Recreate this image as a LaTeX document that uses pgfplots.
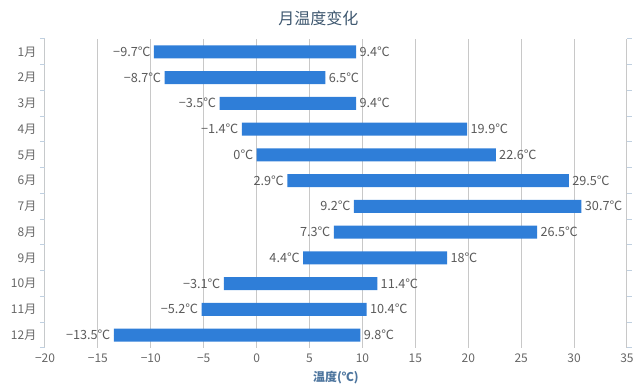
\documentclass[border=0pt]{standalone}
\usepackage{fontspec}
\setmainfont{Noto Sans CJK SC}
\usepackage{pgfplots}
\usepackage{pgfplotstable}
\pgfplotsset{compat=1.18}
\definecolor{barblue}{HTML}{2F7ED8}
\definecolor{gridgray}{HTML}{C8C8C8}
\definecolor{axisline}{HTML}{C0D0E0}
\definecolor{ticklab}{HTML}{666666}
\definecolor{datalab}{HTML}{5A5A5A}
\definecolor{titlecol}{HTML}{3E576F}
\definecolor{axtitle}{HTML}{4D759E}

\pgfplotstableread{
m low high lowl highl
1 -9.7 9.4 −9.7℃ 9.4℃
2 -8.7 6.5 −8.7℃ 6.5℃
3 -3.5 9.4 −3.5℃ 9.4℃
4 -1.4 19.9 −1.4℃ 19.9℃
5 0 22.6 0℃ 22.6℃
6 2.9 29.5 2.9℃ 29.5℃
7 9.2 30.7 9.2℃ 30.7℃
8 7.3 26.5 7.3℃ 26.5℃
9 4.4 18 4.4℃ 18℃
10 -3.1 11.4 −3.1℃ 11.4℃
11 -5.2 10.4 −5.2℃ 10.4℃
12 -13.5 9.8 −13.5℃ 9.8℃
}\temps

\pgfplotsset{
  common/.style={at={(0,0)}, anchor=south west,
    scale only axis, width=436.5pt, height=231.75pt,
    xmin=-20, xmax=35, ymin=0.5, ymax=12.5},
}

\begin{document}
\begin{tikzpicture}
\useasboundingbox (-33.75pt,-30.75pt) rectangle (444pt,261pt);
\begin{axis}[
  common,
  xbar stacked, stack negative=on previous, bar width=9.75pt,
  axis line style={draw=none},
  xtick={-20,-15,...,35},
  xticklabels={−20,−15,−10,−5,0,5,10,15,20,25,30,35},
  ytick={1,...,12},
  yticklabels={12月,11月,10月,9月,8月,7月,6月,5月,4月,3月,2月,1月},
  xtick style={draw=none}, ytick style={draw=none},
  extra y ticks={0.5,1.5,...,12.5},
  extra y tick labels={},
  extra y tick style={major tick length=3.75pt, tick align=outside,
     ytick style={draw=axisline, line width=0.75pt}},
  xmajorgrids, grid style={gridgray, line width=0.75pt},
  ticklabel style={font=\fontsize{9}{9}\selectfont, color=ticklab},
  yticklabel style={xshift=-3pt},
  xticklabel style={yshift=-1pt},
  xlabel={\bfseries 温度(℃)},
  xlabel style={at={(rel axis cs:0.5,0)}, anchor=center, yshift=-22.5pt,
     font=\fontsize{9}{9}\selectfont, color=axtitle},
]
\addplot[draw=none, fill=none]
  table[y expr=13-\thisrow{m}, x=low] {\temps};
\addplot[draw=none, fill=barblue]
  table[y expr=13-\thisrow{m}, x expr=\thisrow{high}-\thisrow{low}] {\temps};
\draw[axisline, line width=0.75pt] (rel axis cs:0,0) -- (rel axis cs:0,1);
\end{axis}
\begin{axis}[
  common, hide axis,
  point meta=explicit symbolic,
  every node near coord/.append style={font=\fontsize{9.5}{9.5}\selectfont, color=datalab, inner sep=0pt},
]
\addplot[only marks, mark=*, mark size=0pt, draw=none, fill=none,
  nodes near coords={\smash{\makebox[0pt][r]{\raisebox{-0.42em}{\pgfplotspointmeta}\hspace{2.6pt}}}}]
  table[y expr=13-\thisrow{m}, x=low, meta=lowl] {\temps};
\addplot[only marks, mark=*, mark size=0pt, draw=none, fill=none,
  nodes near coords={\smash{\makebox[0pt][l]{\hspace{2.6pt}\raisebox{-0.42em}{\pgfplotspointmeta}}}}]
  table[y expr=13-\thisrow{m}, x=high, meta=highl] {\temps};
\end{axis}
\node[font=\fontsize{12}{12}\selectfont, color=titlecol] at (205.1pt,247.5pt) {月温度变化};
\end{tikzpicture}
\end{document}
